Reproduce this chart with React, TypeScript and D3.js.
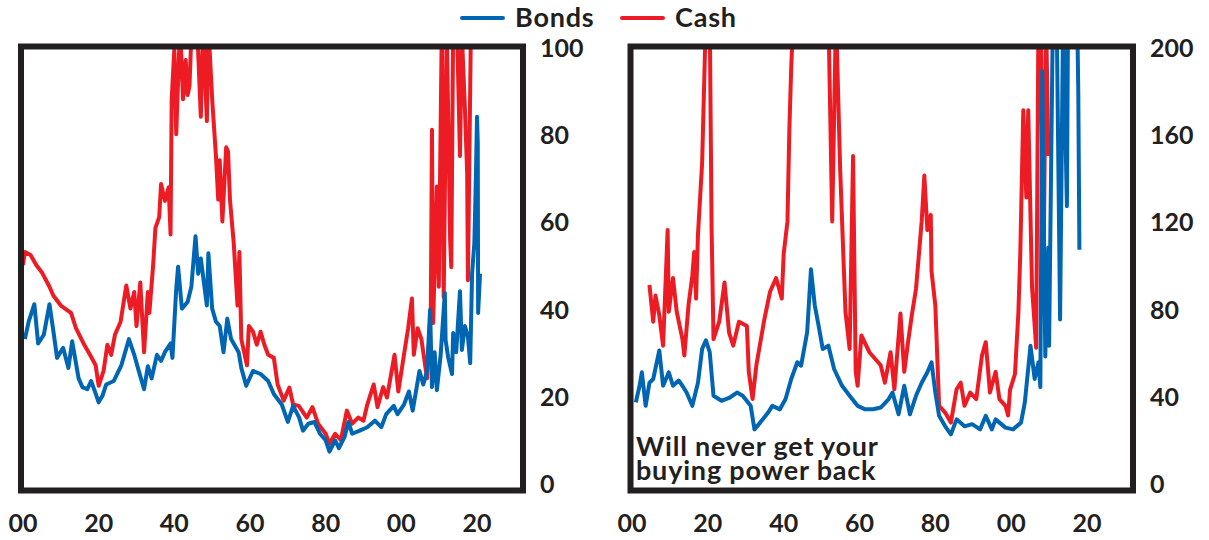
import React, { useRef, useEffect } from "react";
import * as d3 from "d3";

type Pt = [number, number];

// [year, value]; values above the axis max get clipped
const leftBonds: Pt[] = [
  [1900.5, 33], [1901.5, 37], [1903, 41], [1904, 32], [1905.5, 34], [1907, 41], [1908, 35], [1909, 28.7],
  [1910.6, 31], [1912, 26.4], [1913, 32.5], [1914.7, 24], [1915.7, 22], [1917, 21.5], [1918, 23.4], [1919, 21],
  [1920, 18.5], [1921, 20], [1922, 22.6], [1924, 23.4], [1926, 27], [1928, 33], [1929.4, 29.4], [1930.5, 26],
  [1932, 21.5], [1933, 26.8], [1934, 24], [1935.4, 29.4], [1936.5, 28], [1937.5, 30], [1939, 32], [1939.5, 28.7],
  [1940.5, 44.5], [1941, 49.6], [1942, 40], [1943.5, 41.5], [1944.5, 45], [1945.6, 56.6], [1946.3, 48], [1947, 51.5],
  [1948.6, 40.7], [1949, 52.7], [1950, 40], [1951, 37], [1952, 36], [1953, 30], [1954, 37.7], [1955, 33],
  [1957, 30], [1957.7, 26.4], [1959, 22.3], [1960.8, 25.7], [1962.8, 25], [1964.8, 23.4], [1966.3, 20.4], [1968.4, 18],
  [1970, 14], [1971.4, 17.7], [1973, 15], [1974, 12], [1975.4, 13.6], [1977, 14], [1978.5, 11.3], [1980, 9.8],
  [1981, 7.2], [1982.5, 9.8], [1983.5, 8], [1985, 10.6], [1986, 14], [1987, 11.3], [1989, 12], [1991, 12.8],
  [1993, 14.3], [1994.7, 12.8], [1996, 15.8], [1998, 17.7], [1999, 15.8], [2000.7, 18], [2002, 21], [2003, 16.6],
  [2004.8, 25.7], [2005.8, 22.6], [2006.8, 25.7], [2007.6, 39.7], [2008.1, 22], [2008.8, 30], [2009.4, 21.3], [2010.4, 29.4],
  [2011.5, 43.6], [2011.7, 32.8], [2012.4, 28.7], [2013.4, 25], [2013.7, 34.4], [2014.5, 30], [2015.5, 44], [2016, 30.5],
  [2016.8, 36], [2017.6, 33.6], [2018.2, 27.5], [2018.7, 48], [2019.3, 55], [2019.7, 70], [2020, 84], [2020.2, 78],
  [2020.3, 39], [2020.8, 48],
];

const leftCash: Pt[] = [
  [1900, 50], [1900.5, 53], [1902, 52.3], [1903.5, 50], [1905, 48.3], [1907, 45], [1908, 43], [1910, 40.7],
  [1912.7, 39], [1914, 35.5], [1916, 32], [1917.7, 29.4], [1919.2, 27], [1920, 22.3], [1921.3, 25.7], [1922.3, 31.7],
  [1923.3, 29.4], [1924.3, 34], [1925.8, 37], [1927.3, 45.3], [1928.4, 40], [1929.4, 43.8], [1930, 36], [1931, 46],
  [1932, 30], [1933, 43.8], [1933.4, 39], [1934.4, 50], [1935, 58.5], [1936, 61], [1936.5, 68.6], [1937.5, 64.7],
  [1938.5, 67.8], [1939, 57], [1939.3, 88], [1940, 99.6], [1940.5, 80], [1941.5, 105], [1942.3, 88], [1943, 97],
  [1943.5, 89], [1944, 91], [1944.6, 105], [1946, 105], [1947, 84], [1947.6, 105], [1948.6, 83], [1949, 105],
  [1950, 88], [1951, 75], [1951.6, 65], [1952, 74], [1952.7, 60], [1953.7, 77], [1954.2, 76], [1954.7, 65],
  [1955.7, 55], [1956.7, 40.7], [1957.2, 53], [1957.7, 33], [1959.2, 27], [1959.7, 36], [1960.8, 34.7], [1961.8, 31.7],
  [1962.8, 34.7], [1963.8, 31.7], [1964.8, 29.4], [1966.3, 28.7], [1967.3, 22.6], [1968.9, 18.9], [1970.4, 21.9], [1971.4, 18],
  [1972.9, 17.7], [1975, 15], [1976.5, 17.4], [1978, 13.6], [1980, 11.3], [1981, 9], [1982.5, 11.3], [1984, 9.8],
  [1985.6, 16.6], [1987, 13.6], [1988.6, 15], [1990, 14.3], [1991, 18], [1992.7, 22.6], [1993.7, 17.4], [1995.2, 22],
  [1996.2, 19.6], [1998.2, 29.4], [1999.2, 21], [2000.8, 30], [2001.8, 35.5], [2002.8, 42.3], [2003.3, 29.4], [2004.3, 35.5],
  [2005.3, 33], [2006.3, 27], [2006.8, 24], [2007.8, 40.7], [2008.1, 81], [2008.4, 36.7], [2009.4, 68], [2009.9, 45],
  [2010.7, 105], [2011.2, 42.6], [2012, 105], [2012.9, 55.7], [2013.2, 49.5], [2013.7, 105], [2014.7, 105], [2015.5, 75],
  [2016, 103], [2016.8, 86], [2017.4, 71], [2017.6, 46.5], [2018.4, 105],
];

const rightBonds: Pt[] = [
  [1901, 37], [1902, 44.6], [1902.6, 50.8], [1903.6, 35.4], [1904.6, 46], [1905.6, 47.7], [1907.2, 60.8], [1908.2, 44.6],
  [1909.7, 50.8], [1910.8, 44.6], [1912.3, 47], [1913.3, 44.6], [1914.4, 41.5], [1915.9, 35.4], [1917.4, 46], [1918.5, 61.5],
  [1919.5, 65.4], [1920.5, 60], [1921.5, 40], [1923.6, 37.7], [1925.6, 39], [1927.7, 41.5], [1929.2, 40], [1931.3, 35.4],
  [1932.3, 24.6], [1933.8, 27.7], [1935.9, 32.3], [1937, 35.4], [1939, 33.8], [1940.5, 38.5], [1942, 47.7], [1943.6, 55.4],
  [1944.6, 53.8], [1946.2, 69.2], [1947.2, 98], [1948.2, 81.5], [1949.2, 72.3], [1950.3, 61.5], [1951.8, 63], [1953.3, 52.3],
  [1955.4, 44.6], [1957.4, 40], [1959.5, 35.4], [1961.5, 33.8], [1963.6, 33.8], [1965.6, 34.6], [1967.7, 38.5], [1968.7, 41.5],
  [1970.3, 31.5], [1971.8, 44.6], [1973.3, 31.5], [1974.9, 40], [1976.4, 46], [1977.9, 50.8], [1979, 55.4], [1980, 41.5],
  [1981, 30.8], [1982.6, 26], [1984.1, 22.3], [1985.6, 29.2], [1987.7, 26], [1989.7, 27], [1991.8, 24.6], [1993.3, 30.8],
  [1994.9, 24.6], [1995.9, 29.2], [1998.5, 25.4], [2000.5, 24.6], [2002.6, 27.7], [2003.6, 37], [2005.1, 63], [2006.2, 47.7],
  [2007.2, 55.4], [2007.7, 44], [2008.2, 189], [2009, 58], [2009.8, 108], [2010, 63], [2011, 215], [2012, 215],
  [2012.9, 75], [2013.7, 215], [2014.7, 127], [2015, 215], [2017.4, 215], [2017.7, 180], [2018, 107],
];

const rightCash: Pt[] = [
  [1904.6, 90.8], [1905.6, 74], [1906.2, 86], [1907.2, 77], [1908.2, 63], [1909.4, 116], [1909.7, 78.5], [1910.8, 94],
  [1911.8, 78.5], [1913.3, 66], [1913.8, 58.5], [1914.9, 81.5], [1915.9, 95], [1916.4, 106], [1916.9, 84.6], [1917.4, 114],
  [1918.5, 147], [1919.5, 215], [1920.5, 215], [1921, 116], [1921.5, 66], [1923, 74], [1924.4, 92], [1925.6, 69],
  [1926.7, 63], [1928.2, 74], [1930.3, 72], [1930.8, 51], [1931.8, 38.5], [1932.8, 54], [1934.9, 75], [1936.4, 87.7],
  [1938, 94], [1939.5, 84.6], [1940, 105], [1941, 120], [1941.5, 162], [1942, 191], [1942.6, 215], [1951.8, 215],
  [1952.8, 120], [1953.8, 215], [1954.9, 144], [1955.9, 97], [1956.3, 78.5], [1957.4, 61.5], [1958.3, 150], [1959, 51],
  [1959.5, 44.6], [1960.5, 67.7], [1962.6, 60], [1964.1, 57], [1965.6, 54], [1966.7, 46], [1968.2, 60], [1969.2, 43],
  [1970.8, 77.7], [1971.8, 51], [1972.8, 64.6], [1973.8, 77], [1974.9, 89], [1976.4, 120], [1977.1, 141], [1977.9, 116],
  [1978.8, 123], [1979, 97], [1980, 81.5], [1981, 35.4], [1982.6, 32.3], [1984.1, 27.7], [1985.6, 43], [1986.7, 46],
  [1987.7, 35.4], [1989.2, 41.5], [1990.8, 38.5], [1992.3, 58.5], [1993.3, 64.6], [1994.4, 41.5], [1995.9, 51], [1996.9, 38.5],
  [1998.5, 35.4], [1999.2, 31], [1999.7, 42.7], [2001, 50], [2001.9, 78], [2002.4, 105], [2003.2, 171], [2004, 131],
  [2004.5, 171], [2005.5, 90], [2006.6, 62], [2007.2, 215], [2007.8, 215], [2008.5, 90], [2009.2, 215], [2009.8, 150],
];

const yearTicks = [1900, 1920, 1940, 1960, 1980, 2000, 2020];
const leftTicks = [0, 20, 40, 60, 80, 100];
const rightTicks = [0, 40, 80, 120, 160, 200];
const noteLines = ["Will never get your", "buying power back"];

const BLUE = "#0066b3";
const RED = "#ed1c24";
const INK = "#231f20";
const FONT = "Lato, 'Open Sans', sans-serif";

const legendItems = [
  { name: "Bonds", color: BLUE, x: 462 },
  { name: "Cash", color: RED, x: 622 },
];

const panels = [
  { id: "l", left: 21, right: 523, x2020: 477, x1900: 23, max: 100, ticks: leftTicks, bonds: leftBonds, cash: leftCash },
  { id: "r", left: 630.5, right: 1133, x2020: 1087, x1900: 632, max: 200, ticks: rightTicks, bonds: rightBonds, cash: rightCash },
];

export default function App() {
  const svgRef = useRef<SVGSVGElement>(null);

  useEffect(() => {
    document.body.style.margin = "0";
    const svg = d3.select(svgRef.current);
    svg.selectAll("*").remove();

    const top = 46.5;
    const bottom = 490.5;

    panels.forEach((p) => {
      const x = d3.scaleLinear().domain([1900, 2020]).range([p.x1900, p.x2020]);
      const y = d3.scaleLinear().domain([0, p.max]).range([483, 47]);

      svg.append("clipPath").attr("id", "clip-" + p.id)
        .append("rect")
        .attr("x", p.left).attr("y", top)
        .attr("width", p.right - p.left).attr("height", bottom - top);

      const line = d3.line<Pt>().x((d) => x(d[0])).y((d) => y(d[1]));

      const g = svg.append("g").attr("clip-path", `url(#clip-${p.id})`);
      [{ data: p.cash, color: RED }, { data: p.bonds, color: BLUE }].forEach((s) => {
        g.append("path")
          .attr("d", line(s.data))
          .attr("fill", "none")
          .attr("stroke", s.color)
          .attr("stroke-width", 4)
          .attr("stroke-linejoin", "round");
      });

      // frame
      svg.append("rect")
        .attr("x", p.left).attr("y", top)
        .attr("width", p.right - p.left).attr("height", bottom - top)
        .attr("fill", "none").attr("stroke", INK).attr("stroke-width", 6);

      // right-hand value labels
      svg.append("g").selectAll("text").data(p.ticks).join("text")
        .attr("x", p.right + 17)
        .attr("y", (d) => y(d))
        .attr("dominant-baseline", "central")
        .attr("font-family", FONT).attr("font-weight", 700).attr("font-size", 25)
        .attr("fill", INK)
        .text((d) => d);

      // year labels
      svg.append("g").selectAll("text").data(yearTicks).join("text")
        .attr("x", (d) => x(d))
        .attr("y", 522)
        .attr("text-anchor", "middle")
        .attr("dominant-baseline", "central")
        .attr("font-family", FONT).attr("font-weight", 700).attr("font-size", 25)
        .attr("fill", INK)
        .text((d) => String(d % 100).padStart(2, "0"));
    });

    // legend
    const lg = svg.append("g");
    legendItems.forEach((it) => {
      lg.append("line")
        .attr("x1", it.x).attr("x2", it.x + 41)
        .attr("y1", 18).attr("y2", 18)
        .attr("stroke", it.color).attr("stroke-width", 4).attr("stroke-linecap", "round");
      lg.append("text")
        .attr("x", it.x + 53).attr("y", 27)
        .attr("font-family", FONT).attr("font-weight", 700).attr("font-size", 27)
        .attr("letter-spacing", 0.8)
        .attr("fill", INK)
        .text(it.name);
    });

    // annotation on the right panel
    svg.append("g").selectAll("text").data(noteLines).join("text")
      .attr("x", 636)
      .attr("y", (d, i) => 456 + i * 24)
      .attr("font-family", FONT).attr("font-weight", 700).attr("font-size", 27)
      .attr("letter-spacing", 0.8)
      .attr("fill", INK)
      .text((d) => d);
  }, []);

  return <svg ref={svgRef} width={1209} height={540} style={{ display: "block" }} />;
}
